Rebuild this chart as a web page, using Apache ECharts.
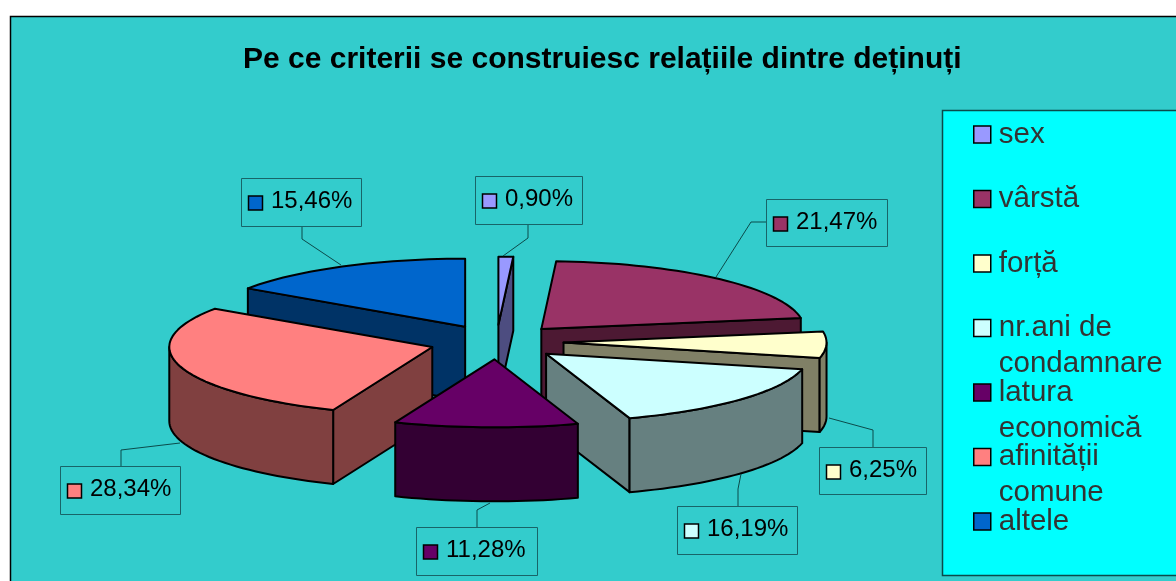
<!DOCTYPE html>
<html>
<head>
<meta charset="utf-8">
<style>html,body{margin:0;padding:0;background:#fff}#c{width:1176px;height:581px}</style>
<script src="https://cdn.jsdelivr.net/npm/echarts@6/dist/echarts.min.js"></script>
</head>
<body>
<div id="c"></div>
<script>
// Data
const categories = ['sex', 'vârstă', 'forță', 'nr.ani de\ncondamnare', 'latura\neconomică', 'afinității\ncomune', 'altele'];
const percentages = [0.90, 21.47, 6.25, 16.19, 11.28, 28.34, 15.46];
const titleText = 'Pe ce criterii se construiesc relațiile dintre deținuți';

// Styles
const topColors = ['#9999FF', '#993366', '#FFFFCC', '#CCFFFF', '#660066', '#FF8080', '#0066CC'];
const sideColors = ['#4D4D80', '#4D1933', '#808066', '#668080', '#330033', '#804040', '#003366'];
const paintOrder = [6, 0, 1, 5, 2, 3, 4];   // back to front

// Layout of the tilted pie
const PIE = { cx: 496.5, cy: 342, rx: 263, ry: 68, depth: 74, explode: 0.255 };
// Label boxes and their leader lines
const boxes = [
  { x: 475.5, y: 176.5, w: 107, h: 48, leader: [[528, 224], [528, 238], [503, 256]] },
  { x: 766.5, y: 199.5, w: 121, h: 47, leader: [[766, 222], [751, 222], [716, 277]] },
  { x: 819.5, y: 447.5, w: 107, h: 47, leader: [[873, 447], [873, 430], [829, 418]] },
  { x: 677.5, y: 506.5, w: 120, h: 48, leader: [[738, 506], [738, 489], [741, 474]] },
  { x: 416.5, y: 527.5, w: 121, h: 48, leader: [[477, 527], [477, 510], [490, 503]] },
  { x: 60.5, y: 466.5, w: 120, h: 48, leader: [[121, 466], [121, 450], [180, 443]] },
  { x: 241.5, y: 178.5, w: 120, h: 48, leader: [[302, 226], [302, 239], [341, 265]] }
];

const total = percentages.reduce((a, b) => a + b, 0);
const cumulative = [];
percentages.reduce((s, v, i) => (cumulative[i] = s, s + v), 0);
const rad = d => d * Math.PI / 180;

function sliceChildren(i, value) {
  const a1 = cumulative[i] / total * 360;
  const a2 = a1 + value / total * 360;
  const mid = rad((a1 + a2) / 2);
  const ax = PIE.cx + PIE.explode * PIE.rx * Math.sin(mid);
  const ay = PIE.cy - PIE.explode * PIE.ry * Math.cos(mid);
  const rim = d => [ax + PIE.rx * Math.sin(rad(d)), ay - PIE.ry * Math.cos(rad(d))];
  const down = p => [p[0], p[1] + PIE.depth];
  const arc = (from, to) => {
    const pts = [];
    const n = Math.max(1, Math.ceil((to - from) / 2));
    for (let k = 0; k <= n; k++) pts.push(rim(from + (to - from) * k / n));
    return pts;
  };
  const face = (points, fill) => ({
    type: 'polygon',
    shape: { points },
    style: { fill, stroke: '#000', lineWidth: 2, lineJoin: 'round' }
  });
  const apex = [ax, ay];
  const side = sideColors[i];
  const kids = [];
  if (Math.sin(rad(a1)) < 0) {
    const p = rim(a1);
    kids.push(face([apex, p, down(p), down(apex)], side));
  }
  if (Math.sin(rad(a2)) > 0) {
    const p = rim(a2);
    kids.push(face([apex, p, down(p), down(apex)], side));
  }
  const f1 = Math.max(a1, 90), f2 = Math.min(a2, 270);
  if (f2 > f1) {
    const outer = arc(f1, f2);
    kids.push(face(outer.concat(outer.map(down).reverse()), side));
  }
  kids.push(face([apex].concat(arc(a1, a2)), topColors[i]));

  const b = boxes[i];
  kids.push({
    type: 'polyline',
    shape: { points: b.leader },
    style: { fill: null, stroke: '#0B4A4A', lineWidth: 1 }
  });
  kids.push({
    type: 'rect',
    shape: { x: b.x, y: b.y, width: b.w, height: b.h },
    style: { fill: 'transparent', stroke: '#186468', lineWidth: 1 }
  });
  kids.push({
    type: 'rect',
    shape: { x: b.x + 7, y: Math.round(b.y + 17), width: 14, height: 14 },
    style: { fill: topColors[i], stroke: '#000', lineWidth: 1.5 }
  });
  kids.push({
    type: 'text',
    style: {
      text: value.toFixed(2).replace('.', ',') + '%',
      x: b.x + 29.5, y: b.y + b.h / 2 - 1,
      fontFamily: 'Liberation Sans', fontSize: 24,
      fill: '#000', align: 'left', verticalAlign: 'middle'
    }
  });
  return kids;
}

const series = categories.map((name, i) => ({
  type: 'custom',
  name,
  coordinateSystem: 'none',
  z: 2 + paintOrder.indexOf(i),
  silent: true,
  animation: false,
  itemStyle: { color: topColors[i] },
  data: [[percentages[i]]],
  renderItem: (params, api) => ({ type: 'group', children: sliceChildren(i, api.value(0)) })
}));

const chart = echarts.init(document.getElementById('c'), null, { renderer: 'canvas' });
chart.setOption({
  animation: false,
  backgroundColor: '#FFFFFF',
  title: {
    text: titleText,
    left: 243, top: 45, padding: 0,
    textStyle: { fontFamily: 'Liberation Sans', fontWeight: 'bold', fontSize: 30, color: '#000' }
  },
  legend: {
    orient: 'vertical',
    left: 973, top: 80, padding: 0,
    itemGap: -44.5, itemWidth: 17, itemHeight: 17,
    selectedMode: false,
    data: categories.map((name, i) => ({
      name, icon: 'rect',
      itemStyle: { color: topColors[i], borderColor: '#000', borderWidth: 1.5 }
    })),
    // the first line of every entry sits level with its swatch
    formatter: name => '\n' + name + (name.includes('\n') ? '' : '\n '),
    textStyle: { fontFamily: 'Liberation Sans', fontSize: 29.5, lineHeight: 36, color: '#333333', padding: [1, 0, 0, 3] }
  },
  graphic: [
    { type: 'rect', z: 0, silent: true, shape: { x: 10.5, y: 16.5, width: 1200, height: 600 },
      style: { fill: '#33CCCC', stroke: '#000', lineWidth: 1.5 } },
    { type: 'rect', z: 1, silent: true, shape: { x: 942.5, y: 110.5, width: 260, height: 465 },
      style: { fill: '#00FFFF', stroke: '#0B4A4A', lineWidth: 1.5 } }
  ],
  series
});
</script>
</body>
</html>
